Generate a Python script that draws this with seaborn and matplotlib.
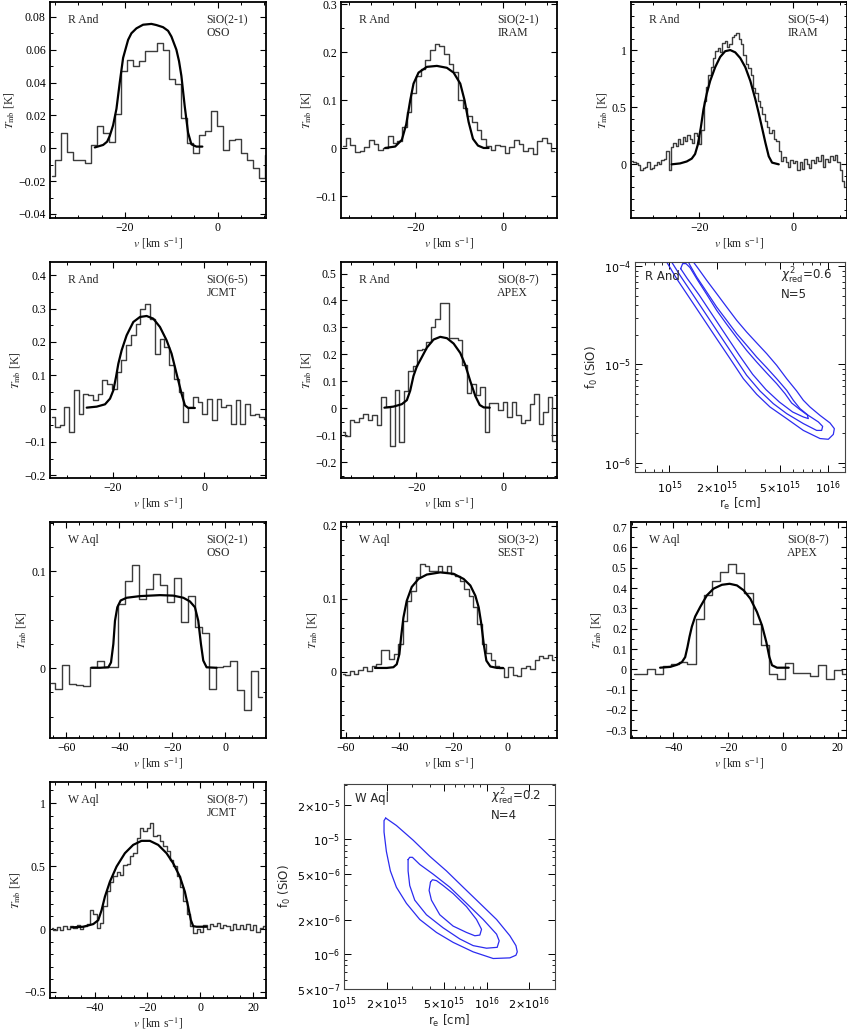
import numpy as np
import matplotlib
matplotlib.use("Agg")
import matplotlib.pyplot as plt
from matplotlib.ticker import (MultipleLocator, FuncFormatter, FixedLocator,
                               FixedFormatter, LogLocator, NullFormatter)
import seaborn as sns

# ---------------- spectra: channel grid start / width, channel values, model fit
# R And SiO(2-1) OSO
rand21oso_v0, rand21oso_dv = -35.645, 1.289
rand21oso_T = [-0.017, -0.007, 0.0095, -0.002, -0.007, -0.007, -0.009, 0.002, 0.0135, 0.0095,
               0.004, 0.021, 0.047, 0.054, 0.050, 0.053, 0.0595, 0.059, 0.064, 0.060,
               0.042, 0.039, 0.0186, 0.003, -0.003, 0.008, 0.0105, 0.0226, 0.0135, -0.001,
               0.005, 0.0055, -0.0026, -0.007, -0.012, -0.018, -0.004]
rand21oso_fit_v = [-26.45, -24.66, -23.8, -23.23, -22.51, -21.79, -21.08, -20.36, -19.28, -18.57,
                   -17.49, -16.06, -14.27, -13.19, -11.76, -10.68, -9.96, -8.89, -8.32, -7.81,
                   -7.10, -6.38, -5.66, -4.59, -3.30]
rand21oso_fit_T = [0.0005, 0.002, 0.004, 0.0075, 0.014, 0.024, 0.040, 0.055, 0.066, 0.070,
                   0.073, 0.0752, 0.0757, 0.0750, 0.0737, 0.0715, 0.068, 0.060, 0.053, 0.044,
                   0.0257, 0.0095, 0.0024, 0.001, 0.001]

# R And SiO(2-1) IRAM
rand21iram_v0, rand21iram_dv = -36.35, 1.065
rand21iram_T = [0.005, 0.022, 0.008, -0.008, -0.006, 0.003, 0.018, 0.010, -0.003, 0.0,
                0.025, 0.012, 0.015, 0.045, 0.075, 0.115, 0.150, 0.165, 0.185, 0.205,
                0.218, 0.213, 0.197, 0.175, 0.160, 0.100, 0.085, 0.068, 0.055, 0.038,
                0.020, 0.005, -0.003, 0.008, 0.005, -0.010, 0.004, 0.018, 0.010, -0.006,
                0.000, -0.012, 0.015, 0.022, 0.012, -0.005]
rand21iram_fit_v = [-26.84, -24.56, -23.04, -22.05, -21.14, -20.38, -19.24, -17.34, -15.06,
                    -12.78, -11.25, -9.73, -8.75, -7.83, -6.84, -5.70, -4.41, -3.27]
rand21iram_fit_T = [0.001, 0.004, 0.018, 0.05, 0.10, 0.135, 0.158, 0.170, 0.172,
                    0.168, 0.158, 0.135, 0.10, 0.055, 0.02, 0.006, 0.001, 0.001]

# R And SiO(5-4) IRAM
rand54iram_v0, rand54iram_dv = -34.35, 0.5
rand54iram_T = [0.03, 0.02, 0.01, -0.01, -0.05, -0.03, -0.02, 0.02, -0.04, -0.03,
                -0.01, 0.02, 0.0, 0.04, 0.05, 0.12, -0.05, 0.15, 0.19, 0.16,
                0.22, 0.18, 0.24, 0.20, 0.26, 0.22, 0.19, 0.27, 0.25, 0.18,
                0.30, 0.55, 0.68, 0.78, 0.85, 0.93, 0.99, 1.02, 0.98, 1.06,
                1.08, 1.03, 1.05, 1.11, 1.13, 1.15, 1.10, 1.05, 0.96, 0.88,
                0.84, 0.78, 0.67, 0.62, 0.55, 0.50, 0.44, 0.38, 0.33, 0.27,
                0.30, 0.22, 0.20, 0.12, 0.03, 0.06, 0.02, -0.02, 0.04, 0.01,
                0.03, -0.05, 0.02, -0.04, 0.05, 0.0, -0.03, 0.04, 0.01, 0.06,
                0.03, 0.08, -0.02, 0.05, 0.02, 0.07, 0.04, 0.08, 0.02, -0.05, -0.15, -0.2]
rand54iram_fit_v = [-25.93, -24.14, -22.71, -21.64, -20.93, -20.36, -19.71, -19.14, -18.43, -17.71,
                    -16.64, -15.57, -14.5, -13.43, -12.36, -11.29, -10.21, -9.14, -8.07, -7.36,
                    -6.64, -5.93, -5.21, -4.5, -3.07]
rand54iram_fit_T = [0.0, 0.008, 0.025, 0.05, 0.09, 0.17, 0.32, 0.48, 0.62, 0.73,
                    0.85, 0.94, 0.99, 1.0, 0.98, 0.93, 0.85, 0.73, 0.57, 0.45,
                    0.32, 0.19, 0.07, 0.015, 0.0]

# R And SiO(6-5) JCMT
rand65jcmt_v0, rand65jcmt_dv = -33.16, 1.04
rand65jcmt_T = [-0.025, -0.055, -0.05, 0.005, -0.07, 0.055, -0.015, 0.045, 0.04, 0.025,
                0.045, 0.085, 0.075, 0.06, 0.11, 0.145, 0.19, 0.22, 0.255, 0.30,
                0.315, 0.27, 0.165, 0.21, 0.185, 0.13, 0.09, 0.05, -0.04, 0.005,
                0.035, 0.02, -0.015, 0.03, -0.035, 0.03, 0.005, 0.01, -0.045, 0.025,
                -0.045, 0.015, -0.02, -0.015, -0.025, -0.03]
rand65jcmt_fit_v = [-25.67, -23.49, -21.67, -20.58, -19.85, -19.27, -18.76, -18.04, -16.95, -15.49,
                    -14.04, -12.58, -11.13, -9.67, -8.22, -7.13, -6.04, -4.95, -4.22, -3.49, -2.04]
rand65jcmt_fit_T = [0.003, 0.006, 0.013, 0.03, 0.055, 0.095, 0.135, 0.175, 0.22, 0.26,
                    0.275, 0.278, 0.27, 0.245, 0.205, 0.165, 0.105, 0.045, 0.01, 0.002, 0.002]

# R And SiO(8-7) APEX
rand87apex_v0, rand87apex_dv = -36.79, 1.035
rand87apex_T = [-0.09, -0.105, -0.042, -0.05, -0.038, -0.02, -0.045, -0.025, -0.063, 0.04,
                0.005, -0.14, 0.067, -0.125, 0.065, 0.14, 0.155, 0.215, 0.22, 0.245,
                0.30, 0.33, 0.39, 0.39, 0.26, 0.26, 0.255, 0.16, 0.055, 0.09,
                0.05, 0.08, -0.088, 0.02, 0.018, -0.007, 0.024, -0.032, 0.024, -0.026,
                -0.054, -0.045, 0.017, 0.054, -0.057, -0.014, 0.042, -0.12]
rand87apex_fit_v = [-27.31, -25.23, -23.31, -22.15, -21.38, -20.62, -19.85, -18.69, -17.54, -16.0,
                    -14.46, -12.92, -11.38, -9.85, -8.69, -7.54, -6.38, -5.38, -4.46, -3.08]
rand87apex_fit_T = [0.002, 0.006, 0.015, 0.03, 0.065, 0.12, 0.155, 0.19, 0.225, 0.255,
                    0.265, 0.26, 0.24, 0.205, 0.16, 0.10, 0.045, 0.012, 0.003, 0.002]

# W Aql SiO(2-1) OSO
waql21oso_v0, waql21oso_dv = -65.58, 2.639
waql21oso_T = [-0.015, -0.021, 0.0035, -0.016, -0.017, -0.018, 0.001, 0.008, 0.001, 0.001,
               0.066, 0.090, 0.107, 0.071, 0.082, 0.097, 0.086, 0.068, 0.093, 0.048,
               0.075, 0.043, 0.036, -0.021, 0.001, 0.002, 0.008, -0.022, -0.043, -0.003, -0.030]
waql21oso_fit_v = [-50.39, -47.25, -44.12, -43.11, -42.23, -41.61, -40.73, -39.47, -37.21, -32.2,
                   -24.67, -19.66, -15.88, -13.38, -11.49, -10.24, -9.23, -8.36, -7.10, -3.34]
waql21oso_fit_T = [0.0005, 0.0005, 0.001, 0.006, 0.025, 0.049, 0.063, 0.070, 0.0728, 0.0745,
                   0.0755, 0.075, 0.0728, 0.069, 0.063, 0.049, 0.025, 0.008, 0.001, 0.0005]

# W Aql SiO(3-2) SEST
waql32sest_v0, waql32sest_dv = -60.93, 1.634
waql32sest_T = [-0.003, -0.004, 0.001, -0.003, 0.002, 0.006, 0.001, 0.007, 0.010, 0.029,
                0.029, 0.017, 0.024, 0.038, 0.07, 0.097, 0.111, 0.129, 0.147, 0.145,
                0.138, 0.138, 0.145, 0.136, 0.145, 0.134, 0.131, 0.124, 0.113, 0.104,
                0.088, 0.065, 0.038, 0.025, 0.016, 0.007, 0.005, -0.007, 0.006, -0.004,
                -0.006, 0.005, 0.008, 0.004, 0.016, 0.021, 0.019, 0.023, 0.016]
waql32sest_fit_v = [-49.09, -44.74, -42.26, -41.02, -40.03, -39.41, -38.54, -37.3, -35.44, -32.95,
                    -29.85, -24.88, -19.91, -16.19, -13.7, -11.84, -10.6, -9.61, -8.74, -7.75,
                    -6.26, -3.77, -1.54]
waql32sest_fit_T = [0.005, 0.005, 0.006, 0.01, 0.024, 0.047, 0.074, 0.097, 0.116, 0.127,
                    0.133, 0.136, 0.134, 0.127, 0.118, 0.104, 0.088, 0.065, 0.038, 0.015,
                    0.007, 0.005, 0.005]

# W Aql SiO(8-7) APEX
waql87apex_v0, waql87apex_dv = -54.26, 2.976
waql87apex_T = [-0.021, -0.024, 0.003, -0.021, 0.015, 0.025, 0.036, 0.028, 0.249, 0.367,
                0.433, 0.479, 0.520, 0.475, 0.375, 0.225, 0.118, -0.021, -0.050, 0.033,
                -0.018, -0.016, -0.033, 0.023, -0.050, -0.002, -0.021]
waql87apex_fit_v = [-44.88, -41.22, -38.78, -36.95, -35.73, -34.88, -34.15, -33.29, -32.07, -30.24,
                    -27.8, -25.37, -22.32, -19.51, -16.83, -14.39, -11.95, -9.51, -7.68, -6.10,
                    -5.0, -4.02, -2.2, 2.07]
waql87apex_fit_T = [0.008, 0.012, 0.022, 0.035, 0.06, 0.11, 0.16, 0.21, 0.26, 0.307,
                    0.364, 0.397, 0.416, 0.421, 0.413, 0.389, 0.348, 0.282, 0.216, 0.134,
                    0.061, 0.02, 0.008, 0.008]

# W Aql SiO(8-7) JCMT
waql87jcmt_v0, waql87jcmt_dv = -56.28, 1.261
waql87jcmt_T = [0.01, -0.01, 0.015, -0.005, 0.02, 0.0, 0.025, 0.01, 0.03, 0.0,
                0.025, 0.04, 0.15, 0.12, 0.01, 0.05, 0.18, 0.30, 0.37, 0.42,
                0.45, 0.43, 0.51, 0.52, 0.58, 0.60, 0.72, 0.80, 0.78, 0.80,
                0.84, 0.74, 0.75, 0.70, 0.66, 0.62, 0.55, 0.50, 0.42, 0.33,
                0.22, 0.12, 0.02, -0.03, 0.0, -0.02, 0.03, 0.0, 0.04, 0.02,
                0.05, 0.01, 0.03, 0.02, -0.01, 0.04, 0.0, 0.03, 0.0, 0.04,
                -0.01, 0.03, -0.02, 0.01, 0.02]
waql87jcmt_fit_v = [-48.71, -44.3, -40.52, -38.63, -37.36, -36.1, -34.21, -31.69, -28.54, -25.4,
                    -22.25, -19.08, -15.93, -12.78, -10.25, -7.73, -5.84, -4.58, -3.57, -2.69,
                    -1.43, 2.36]
waql87jcmt_fit_T = [0.013, 0.018, 0.039, 0.07, 0.15, 0.257, 0.376, 0.496, 0.602, 0.668,
                    0.70, 0.70, 0.668, 0.602, 0.522, 0.416, 0.296, 0.177, 0.071, 0.023,
                    0.018, 0.018]

# ---------------- chi^2 contours (r_e in 1e15 cm, f0 in 1e-6)
RE_UNIT, F0_UNIT = 1e15, 1e-6
rand_outer_re = [0.962, 1.112, 1.351, 1.639, 1.990, 2.415, 2.932, 3.559, 4.320, 5.505, 7.015,
                 8.940, 10.09, 10.85, 11.01, 10.33, 8.940, 7.727, 7.015, 6.367, 5.505, 4.760,
                 4.117, 3.559, 3.077, 2.661, 2.301, 1.990, 1.721, 1.524, 1.418]
rand_outer_f0 = [110.7, 74.9, 46.8, 29.3, 18.3, 11.5, 7.17, 4.97, 3.69, 2.81, 2.13,
                 1.76, 1.73, 1.94, 2.22, 2.54, 3.03, 3.69, 4.32, 5.37, 7.17, 9.81,
                 12.9, 16.6, 21.4, 28.2, 38.5, 52.7, 72.0, 94.7, 110.7]
rand_mid_re = [1.034, 1.168, 1.418, 1.721, 2.089, 2.535, 3.077, 3.737, 4.535, 5.505,
               7.015, 8.514, 9.156, 9.290, 8.723, 7.543, 6.683, 6.065, 5.505, 4.760,
               4.117, 3.559, 3.077, 2.661, 2.301, 1.990, 1.721, 1.488, 1.351, 1.318]
rand_mid_f0 = [110.7, 80.9, 50.7, 31.7, 19.8, 12.4, 7.76, 5.37, 3.99, 3.16,
               2.50, 2.13, 2.13, 2.34, 2.60, 3.03, 3.55, 4.32, 5.46, 7.17,
               9.28, 11.9, 15.7, 20.6, 28.2, 38.5, 54.8, 77.9, 102.4, 110.7]
rand_in_re = [1.179, 1.299, 1.547, 1.877, 2.279, 2.766, 3.358, 4.077, 4.947, 6.006,
              7.015, 7.543, 7.433, 6.683, 5.920, 5.373, 4.760, 4.117, 3.559, 3.077,
              2.661, 2.301, 1.990, 1.721, 1.488, 1.351, 1.274, 1.214, 1.179]
rand_in_f0 = [94.7, 74.9, 50.7, 31.7, 19.8, 12.4, 7.94, 5.54, 4.15, 3.28,
              2.92, 2.81, 3.06, 3.47, 4.05, 5.05, 6.38, 8.19, 10.6, 13.9,
              18.8, 25.7, 35.6, 51.9, 74.9, 97.0, 106.5, 106.5, 94.7]

waql_outer_re = [1.962, 2.332, 3.053, 3.999, 5.236, 6.855, 8.979, 11.76, 14.58, 16.08, 16.43,
                 16.08, 14.58, 11.14, 8.058, 5.832, 4.454, 3.401, 2.741, 2.332, 2.116, 1.984,
                 1.910, 1.910, 1.962]
waql_outer_f0 = [15.36, 13.23, 9.87, 7.13, 5.32, 3.84, 2.78, 2.01, 1.45, 1.19, 1.05,
                 0.981, 0.931, 0.919, 1.05, 1.27, 1.55, 2.01, 2.78, 3.84, 5.32, 7.86,
                 11.61, 14.58, 15.36]
waql_mid_re = [2.817, 2.893, 3.021, 3.401, 4.220, 5.525, 7.235, 9.476, 11.76, 12.27,
               11.88, 10.0, 8.058, 6.496, 4.961, 3.789, 3.137, 2.893, 2.817, 2.817]
waql_mid_f0 = [6.68, 6.99, 6.99, 6.06, 4.99, 3.84, 2.78, 2.01, 1.497, 1.31,
               1.15, 1.13, 1.19, 1.36, 1.70, 2.21, 2.96, 3.97, 5.32, 6.68]
waql_in_re = [4.043, 4.174, 4.454, 4.961, 5.832, 7.235, 8.506, 9.224, 8.979, 8.28,
              7.235, 5.832, 4.700, 4.108, 3.956, 4.043]
waql_in_f0 = [4.24, 4.46, 4.38, 3.97, 3.38, 2.60, 2.01, 1.65, 1.47, 1.45,
              1.55, 1.76, 2.21, 2.96, 3.60, 4.24]

# ---------------- style
sns.set_style("ticks")
plt.rcParams["font.family"] = ["Liberation Serif", "DejaVu Serif"]
plt.rcParams["mathtext.fontset"] = "dejavusans"
plt.rcParams["axes.edgecolor"] = "black"
plt.rcParams["xtick.color"] = "black"
plt.rcParams["ytick.color"] = "black"

fig = plt.figure(figsize=(8.47, 10.29), dpi=100)

col_x = [0.0590, 0.4026, 0.7450]
row_y = [0.7881, 0.5355, 0.2828, 0.0301]
pw, ph = 0.2545, 0.2099


def fmt_tick(val, pos):
    val = round(val, 6)
    if val == 0:
        return "0"
    return f"{val:g}".replace("-", "\u2212")


def spectrum(rect, v0, dv, T, fit_v, fit_T, xlim, ylim, ymaj, ymin, star, line, tel):
    ax = fig.add_axes(rect)
    v = v0 + dv * np.arange(len(T))
    sns.lineplot(x=v, y=T, ax=ax, drawstyle="steps-mid", color="#3c3c3c",
                 linewidth=1.0, estimator=None, legend=False)
    sns.lineplot(x=fit_v, y=fit_T, ax=ax, color="black", linewidth=1.6,
                 estimator=None, legend=False)
    ax.set_xlim(xlim)
    ax.set_ylim(ylim)
    ax.xaxis.set_major_locator(MultipleLocator(20))
    ax.xaxis.set_minor_locator(MultipleLocator(5))
    ax.yaxis.set_major_locator(MultipleLocator(ymaj))
    ax.yaxis.set_minor_locator(MultipleLocator(ymin))
    ax.xaxis.set_major_formatter(FuncFormatter(fmt_tick))
    ax.yaxis.set_major_formatter(FuncFormatter(fmt_tick))
    ax.tick_params(which="both", direction="in", top=True, right=True, labelsize=8.5, pad=3)
    ax.tick_params(which="major", length=4.5, width=0.8)
    ax.tick_params(which="minor", length=2.5, width=0.7)
    for s in ax.spines.values():
        s.set_linewidth(1.3)
    ax.set_xlabel(r"$v$ [km s$^{-1}$]", fontsize=8.5, labelpad=1, math_fontfamily="stix")
    ax.set_ylabel(r"$T_{\rm mb}$ [K]", fontsize=8.5, labelpad=2, math_fontfamily="stix")
    ax.text(0.085, 0.915, star, transform=ax.transAxes, fontsize=8.5, va="center")
    ax.text(0.725, 0.915, line, transform=ax.transAxes, fontsize=8.5, va="center")
    ax.text(0.725, 0.855, tel, transform=ax.transAxes, fontsize=8.5, va="center")
    return ax


def contours(rect, loops, xlim, ylim, xt, xtl, yt, ytl, star, chi, nobs):
    ax = fig.add_axes(rect)
    ax.set_xscale("log")
    ax.set_yscale("log")
    for re, f0 in loops:
        sns.lineplot(x=np.array(re) * RE_UNIT, y=np.array(f0) * F0_UNIT, ax=ax, sort=False,
                     estimator=None, color="#2b2bf0", linewidth=0.9, legend=False)
    ax.set_xlim(xlim)
    ax.set_ylim(ylim)
    ax.xaxis.set_major_locator(FixedLocator(xt))
    ax.xaxis.set_major_formatter(FixedFormatter(xtl))
    ax.yaxis.set_major_locator(FixedLocator(yt))
    ax.yaxis.set_major_formatter(FixedFormatter(ytl))
    for axis in (ax.xaxis, ax.yaxis):
        axis.set_minor_locator(LogLocator(base=10, subs=np.arange(2, 10), numticks=20))
        axis.set_minor_formatter(NullFormatter())
    ax.tick_params(which="both", direction="in", top=True, right=True, labelsize=8, pad=2.5)
    ax.tick_params(axis="x", which="major", pad=5)
    ax.tick_params(which="major", length=5, width=0.7)
    ax.tick_params(which="minor", length=2.5, width=0.6)
    for s in ax.spines.values():
        s.set_linewidth(0.8)
        s.set_color("#444444")
    for lab in ax.get_xticklabels() + ax.get_yticklabels():
        lab.set_family("DejaVu Sans")
    ax.set_xlabel(r"r$_{\rm e}$ [cm]", fontsize=8.5, family="DejaVu Sans", labelpad=0)
    ax.set_ylabel(r"f$_0$ (SiO)", fontsize=8.5, family="DejaVu Sans", labelpad=3)
    ax.text(0.05, 0.93, star, transform=ax.transAxes, fontsize=8.5, va="center",
            family="DejaVu Sans")
    ax.text(0.695, 0.935, r"$\chi^2_{\rm red}$=" + chi, transform=ax.transAxes, fontsize=8.5,
            va="center", family="DejaVu Sans")
    ax.text(0.695, 0.845, "N=" + nobs, transform=ax.transAxes, fontsize=8.5, va="center",
            family="DejaVu Sans")
    return ax


spectrum([col_x[0], row_y[0], pw, ph], rand21oso_v0, rand21oso_dv, rand21oso_T,
         rand21oso_fit_v, rand21oso_fit_T, (-36.1, 10.3), (-0.0425, 0.089), 0.02, 0.01,
         "R And", "SiO(2-1)", "OSO")
spectrum([col_x[1], row_y[0], pw, ph], rand21iram_v0, rand21iram_dv, rand21iram_T,
         rand21iram_fit_v, rand21iram_fit_T, (-36.9, 12.2), (-0.145, 0.305), 0.1, 0.05,
         "R And", "SiO(2-1)", "IRAM")
spectrum([col_x[2], row_y[0], pw, ph], rand54iram_v0, rand54iram_dv, rand54iram_T,
         rand54iram_fit_v, rand54iram_fit_T, (-34.6, 11.4), (-0.47, 1.42), 0.5, 0.1,
         "R And", "SiO(5-4)", "IRAM")
spectrum([col_x[0], row_y[1], pw, ph], rand65jcmt_v0, rand65jcmt_dv, rand65jcmt_T,
         rand65jcmt_fit_v, rand65jcmt_fit_T, (-33.7, 13.4), (-0.208, 0.44), 0.1, 0.05,
         "R And", "SiO(6-5)", "JCMT")
spectrum([col_x[1], row_y[1], pw, ph], rand87apex_v0, rand87apex_dv, rand87apex_T,
         rand87apex_fit_v, rand87apex_fit_T, (-37.3, 12.3), (-0.259, 0.543), 0.1, 0.05,
         "R And", "SiO(8-7)", "APEX")
contours([0.7497, 0.5413, 0.2479, 0.2041],
         [(rand_outer_re, rand_outer_f0), (rand_mid_re, rand_mid_f0), (rand_in_re, rand_in_f0)],
         (6.07e14, 1.285e16), (8.03e-7, 1.107e-4),
         [1e15, 2e15, 5e15, 1e16],
         [r"$10^{15}$", r"$2{\times}10^{15}$", r"$5{\times}10^{15}$", r"$10^{16}$"],
         [1e-6, 1e-5, 1e-4], [r"$10^{-6}$", r"$10^{-5}$", r"$10^{-4}$"],
         "R And", "0.6", "5")

spectrum([col_x[0], row_y[2], pw, ph], waql21oso_v0, waql21oso_dv, waql21oso_T,
         waql21oso_fit_v, waql21oso_fit_T, (-66.1, 15.1), (-0.072, 0.151), 0.1, 0.025,
         "W Aql", "SiO(2-1)", "OSO")
spectrum([col_x[1], row_y[2], pw, ph], waql32sest_v0, waql32sest_dv, waql32sest_T,
         waql32sest_fit_v, waql32sest_fit_T, (-61.7, 18.3), (-0.091, 0.205), 0.1, 0.02,
         "W Aql", "SiO(3-2)", "SEST")
spectrum([col_x[2], row_y[2], pw, ph], waql87apex_v0, waql87apex_dv, waql87apex_T,
         waql87apex_fit_v, waql87apex_fit_T, (-55.5, 23.2), (-0.338, 0.725), 0.1, 0.05,
         "W Aql", "SiO(8-7)", "APEX")
spectrum([col_x[0], row_y[3], pw, ph], waql87jcmt_v0, waql87jcmt_dv, waql87jcmt_T,
         waql87jcmt_fit_v, waql87jcmt_fit_T, (-56.9, 24.7), (-0.548, 1.167), 0.5, 0.1,
         "W Aql", "SiO(8-7)", "JCMT")
contours([0.4061, 0.0390, 0.2491, 0.1991],
         [(waql_outer_re, waql_outer_f0), (waql_mid_re, waql_mid_f0), (waql_in_re, waql_in_f0)],
         (1e15, 3.02e16), (5e-7, 3.04e-5),
         [1e15, 2e15, 5e15, 1e16, 2e16],
         [r"$10^{15}$", r"$2{\times}10^{15}$", r"$5{\times}10^{15}$", r"$10^{16}$",
          r"$2{\times}10^{16}$"],
         [5e-7, 1e-6, 2e-6, 5e-6, 1e-5, 2e-5],
         [r"$5{\times}10^{-7}$", r"$10^{-6}$", r"$2{\times}10^{-6}$", r"$5{\times}10^{-6}$",
          r"$10^{-5}$", r"$2{\times}10^{-5}$"],
         "W Aql", "0.2", "4")

fig.savefig("out.png", dpi=100)
